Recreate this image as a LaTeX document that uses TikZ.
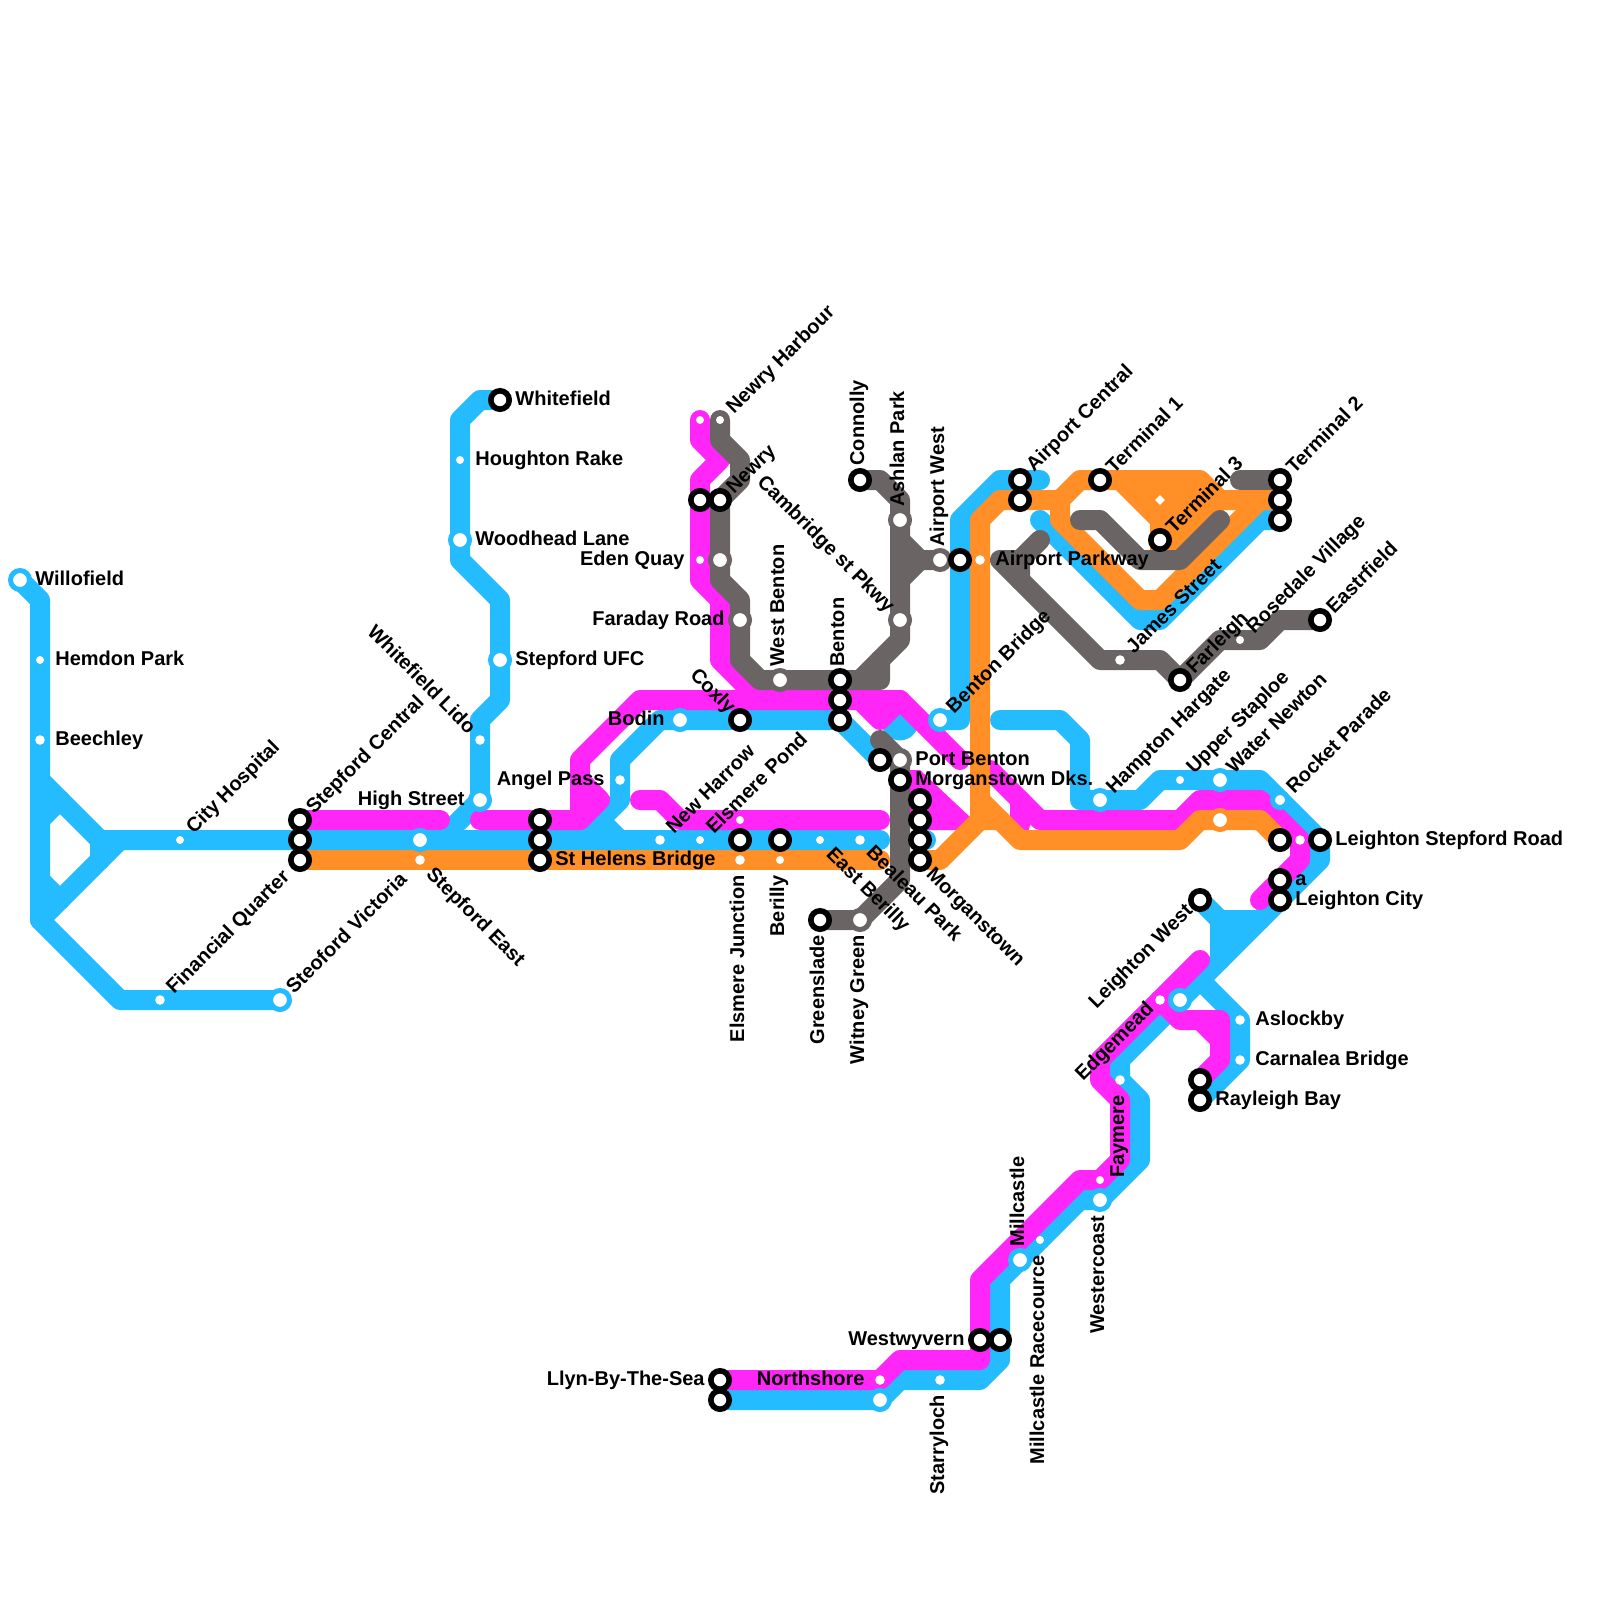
\documentclass[tikz,border=0pt]{standalone}
\usepackage{fontspec}
\setmainfont{Liberation Sans}
\definecolor{cblue}{RGB}{36,187,255}
\definecolor{cmag}{RGB}{255,38,247}
\definecolor{corg}{RGB}{255,143,38}
\definecolor{cgry}{RGB}{107,100,100}
\tikzset{
 rail/.style={line width=10pt,line cap=round,line join=round},
 blu/.style={rail,draw=cblue},
 mag/.style={rail,draw=cmag},
 org/.style={rail,draw=corg},
 gry/.style={rail,draw=cgry},
 sd/.style={circle,fill=white,inner sep=0pt,minimum size=4pt*#1},
 sd/.default=1,
 hub/.style={circle,fill=white,draw=#1,line width=2.5pt,inner sep=0pt,minimum size=9.5pt},
 hubs/.style={circle,fill=white,draw=#1,line width=2.5pt,inner sep=0pt,minimum size=7.5pt},
 ring/.style={circle,fill=white,draw=black,line width=2.8pt,inner sep=0pt,minimum size=9.2pt},
 lab/.style={font=\fontsize{10}{12}\selectfont\bfseries,inner sep=0pt,text height=7pt,text depth=0pt,text=black},
 rt/.style={lab,text height=5pt,anchor=west},
 lf/.style={lab,text height=5pt,anchor=east},
 ur/.style={xshift=1pt,lab,rotate=45,anchor=west},
 ue/.style={lab,rotate=45,anchor=east},
 dr/.style={xshift=1.5pt,lab,rotate=-45,anchor=west},
 de/.style={lab,rotate=-45,anchor=east},
 vs/.style={yshift=-1pt,lab,rotate=90,anchor=west},
 ve/.style={lab,rotate=90,anchor=east},
}
\begin{document}
\begin{tikzpicture}[x=0.5pt,y=-0.5pt]
\useasboundingbox (0,0) rectangle (1600,1600);
% terminal coordinates
\coordinate (willofield) at (20,580);
\coordinate (steoford) at (280,1000);
\coordinate (whitefield) at (500,400);
\coordinate (llyn) at (720,1400);
\coordinate (rayleigh) at (1200,1100);
\coordinate (lwest) at (1200,900);
\coordinate (connolly) at (860,480);
\coordinate (eastr) at (1320,620);
\coordinate (greens) at (820,920);
% BLUE
\draw[blu] (willofield)--(40,600)--(40,920)--(120,1000)--(steoford);
\draw[blu] (40,780)--(100,840)--(880,840);
\draw[blu] (100,840)--(100,860);
\draw[blu] (40,920)--(120,840);
\draw[blu] (40,820)--(60,800);
\draw[blu] (40,880)--(60,900);
\draw[blu] (whitefield)--(480,400)--(460,420)--(460,560)--(500,600)--(500,700)--(480,720)--(480,800)--(440,840);
\draw[blu] (600,820)--(620,840);
\draw[blu] (580,840)--(620,800)--(620,760)--(660,720)--(840,720)--(880,760);
\fill[cblue] (900,722) circle (9.2pt);
\draw[blu] (920,840)--(926,840);
\draw[blu] (940,720)--(960,720)--(960,520)--(1000,480)--(1040,480);
\draw[blu] (1040,520)--(1140,620)--(1160,620)--(1260,520)--(1280,520);
\draw[blu] (1000,720)--(1060,720)--(1080,740)--(1080,800)--(1140,800)--(1160,780)--(1260,780)--(1320,840)--(1320,860)--(1120,1060)--(1120,1080)--(1140,1100)--(1140,1160)--(1100,1200)--(1080,1200)--(1000,1280)--(1000,1360)--(980,1380)--(900,1380)--(880,1400)--(llyn);
\draw[blu] (lwest)--(1220,920)--(1220,960);
\draw[blu] (1220,920)--(1260,920);
\fill[cblue] (1220,920)--(1260,920)--(1220,960)--cycle;
\draw[blu] (1200,980)--(1240,1020)--(1240,1060)--(rayleigh);
% MAGENTA
\draw[mag] (300,820)--(440,820);
\draw[mag] (480,820)--(580,820)--(600,800)--(580,780)--(580,760)--(640,700)--(900,700)--(960,760);
\draw[mag] (580,780)--(580,820);
\draw[mag] (700,420)--(700,440)--(720,460)--(700,480)--(700,580)--(720,600)--(720,660)--(760,700);
\draw[mag] (860,700)--(880,720)--(900,700);
\draw[mag] (640,800)--(660,800)--(680,820)--(880,820);
\fill[cmag] (905,770)--(920,770)--(970,817)--(957,830)--(920,830)--(905,810)--cycle;
\draw[mag] (990,770)--(1040,820)--(1180,820)--(1200,800)--(1260,800)--(1300,840)--(1300,860)--(1260,900);
\draw[mag] (1020,800)--(1020,825);
\draw[mag] (1200,960)--(1100,1060)--(1100,1080)--(1120,1100)--(1120,1160)--(1100,1180)--(1080,1180)--(980,1280)--(980,1360)--(900,1360)--(880,1380)--(720,1380);
\draw[mag] (1160,1000)--(1180,1020)--(1220,1020)--(1220,1060)--(1200,1080);
\draw[mag] (1200,1020)--(1220,1040);
% ORANGE
\draw[org] (300,860)--(880,860);
\draw[org] (920,860)--(940,860)--(980,820)--(1000,820)--(1020,840)--(1180,840)--(1200,820)--(1260,820)--(1280,840);
\draw[org] (980,820)--(980,520)--(1000,500)--(1060,500)--(1080,480)--(1200,480)--(1220,500)--(1280,500);
\draw[org] (980,800)--(1000,820);
\draw[org] (1260,500)--(1160,600)--(1140,600)--(1060,520)--(1060,500);
\draw[org] (1120,480)--(1160,520)--(1160,560);
\draw[org] (1220,500)--(1170,550);
\fill[corg] (1125,480)--(1200,480)--(1215,500)--(1160,550)--(1160,520)--cycle;
% GREY
\draw[gry] (720,420)--(720,440)--(740,460)--(740,480)--(720,500)--(720,580)--(740,600)--(740,660)--(760,680)--(880,680)--(880,660);
\draw[gry] (860,680)--(900,640)--(900,500)--(880,480)--(connolly);
\draw[gry] (900,540)--(920,560)--(940,560);
\draw[gry] (900,580)--(920,560);
\draw[gry] (880,740)--(900,760)--(900,880)--(860,920)--(greens);
\draw[gry] (1040,540)--(1020,560)--(1020,580);
\draw[gry] (1020,560)--(1000,560)--(1100,660)--(1160,660)--(1180,680)--(1220,640)--(1260,640)--(1280,620)--(eastr);
\draw[gry] (1080,520)--(1100,520)--(1140,560)--(1180,560)--(1220,520);
\draw[gry] (1240,480)--(1280,480);
% SMALL STOPS
\foreach \n/\x/\y/\k in {a/40/660/1,b/40/740/1.2,c/180/840/1,d/160/1000/1.2,e/420/860/1.2,f/480/740/1.2,g/460/460/1,h/620/780/1.2,i/660/840/1.2,j/700/840/1,k/740/820/1,l/820/840/1,m/860/840/1.2,n/780/860/1,o/740/860/1.2,p/700/420/1,q/720/420/1,r/700/560/1,s/1120/660/1.2,t/1240/640/1,u/1180/780/1,v/1240/1020/1.2,w/1240/1060/1.2,x/1160/1000/1.2,y/1100/1180/1,z/1040/1240/1,aa/940/1380/1.2,ab/880/1380/1.2,ac/1120/1080/1.2,ad/980/560/1.2,ae/1300/840/1.2}
 \node[sd=\k] (sm\n) at (\x,\y) {};
\node[rectangle,fill=white,inner sep=0pt,minimum size=3.5pt,rotate=45] (termthree) at (1160,500) {};
% HALO STOPS
\foreach \n/\x/\y in {a/20/580,b/420/840,c/480/800,d/500/660,e/460/540,f/280/1000,g/680/720,h/940/720,i/1100/800,j/1220/780,l/1180/1000,m/1100/1200,n/1020/1260,o/880/1400}
 \node[hub=cblue] (hb\n) at (\x,\y) {};
\node[hubs=cblue] (hbk) at (1280,800) {};
\foreach \n/\x/\y in {a/780/680,b/740/620,c/720/560,d/900/520,e/900/620,f/940/560,g/900/760,h/860/920}
 \node[hub=cgry] (hg\n) at (\x,\y) {};
\node[hub=corg] (hoa) at (1220,820) {};
% INTERCHANGE RINGS
\foreach \n/\x/\y in {a/300/820,b/300/840,c/300/860,d/500/400,e/540/820,f/540/840,g/540/860,h/740/840,i/780/840,j/920/800,k/920/820,l/920/840,m/920/860,n/740/720,o/840/680,p/840/700,q/840/720,r/700/500,s/720/500,t/860/480,u/960/560,v/1020/480,w/1020/500,x/1100/480,y/1160/540,z/1280/480,aa/1280/500,ab/1280/520,ac/1180/680,ad/1320/620,ae/880/760,af/900/780,ag/1280/840,ah/1320/840,ai/1280/880,aj/1280/900,ak/1200/900,al/1200/1080,am/1200/1100,an/980/1340,ao/1000/1340,ap/720/1380,aq/720/1400,ar/820/920}
 \node[ring] (rg\n) at (\x,\y) {};
% LABELS
\node[rt] (t1) at (35,580) {Willofield};
\node[rt] (t2) at (55,660) {Hemdon Park};
\node[rt] (t3) at (55,740) {Beechley};
\node[rt] (t4) at (515,400) {Whitefield};
\node[rt] (t5) at (475,460) {Houghton Rake};
\node[rt] (t6) at (475,540) {Woodhead Lane};
\node[rt] (t7) at (515,660) {Stepford UFC};
\node[rt] (t8) at (1335,840) {Leighton Stepford Road};
\node[rt] (t9) at (1295,880) {a};
\node[rt] (t10) at (1295,900) {Leighton City};
\node[rt] (t11) at (1255,1020) {Aslockby};
\node[rt] (t12) at (1255,1060) {Carnalea Bridge};
\node[rt] (t13) at (1215,1100) {Rayleigh Bay};
\node[rt] (t14) at (555,860) {St Helens Bridge};
\node[rt] (t15) at (915,760) {Port Benton};
\node[rt] (t16) at (915,780) {Morganstown Dks.};
\node[rt] (t17) at (995,560) {Airport Parkway};
\node[lf] (t18) at (685,560) {Eden Quay};
\node[lf] (t19) at (725,620) {Faraday Road};
\node[lf] (t20) at (665,720) {Bodin};
\node[lf] (t21) at (465,800) {High Street};
\node[lf] (t22) at (605,780) {Angel Pass};
\node[lf] (t23) at (965,1340) {Westwyvern};
\node[lf] (t24) at (705,1380) {Llyn-By-The-Sea};
\node[lf] (t25) at (865,1380) {Northshore};
\node[ur] (t26) at (187,830) {City Hospital};
\node[ur] (t27) at (307,810) {Stepford Central};
\node[ur] (t28) at (167,990) {Financial Quarter};
\node[ur] (t29) at (287,990) {Steoford Victoria};
\node[ur] (t30) at (727,410) {Newry Harbour};
\node[ur] (t31) at (727,490) {Newry};
\node[ur] (t32) at (667,830) {New Harrow};
\node[ur] (t33) at (707,830) {Elsmere Pond};
\node[ur] (t34) at (1027,468) {Airport Central};
\node[ur] (t35) at (1107,470) {Terminal 1};
\node[ur] (t36) at (1167,530) {Terminal 3};
\node[ur] (t37) at (1287,470) {Terminal 2};
\node[ur] (t38) at (947,710) {Benton Bridge};
\node[ur] (t39) at (1127,650) {James Street};
\node[ur] (t40) at (1187,670) {Farleigh};
\node[ur] (t41) at (1247,630) {Rosedale Village};
\node[ur] (t42) at (1327,610) {Eastrfield};
\node[ur] (t43) at (1107,790) {Hampton Hargate};
\node[ur] (t44) at (1187,770) {Upper Staploe};
\node[ur] (t45) at (1227,770) {Water Newton};
\node[ur] (t46) at (1287,790) {Rocket Parade};
\node[ue] (t47) at (1189,907) {Leighton West};
\node[ue] (t48) at (1150,1005) {Edgemead};
\node[dr] (t49) at (427,870) {Stepford East};
\node[dr] (t50) at (827,850) {East Berilly};
\node[dr] (t51) at (867,848) {Bealeau Park};
\node[dr] (t52) at (927,870) {Morganstown};
\node[de] (t53) at (473,730) {Whitefield Lido};
\node[de] (t54) at (733,710) {Coxly};
\node[de] (t55) at (892,609) {Cambridge st Pkwy};
\node[vs] (t56) at (857,464) {Connolly};
\node[vs] (t57) at (897,505) {Ashlan Park};
\node[vs] (t58) at (937,545) {Airport West};
\node[vs] (t59) at (777,665) {West Benton};
\node[vs] (t60) at (837,665) {Benton};
\node[vs] (t61) at (1017,1245) {Millcastle};
\node[ve] (t62) at (737,875) {Elsmere Junction};
\node[ve] (t63) at (777,875) {Berilly};
\node[ve] (t64) at (817,935) {Greenslade};
\node[ve] (t65) at (857,935) {Witney Green};
\node[ve] (t66) at (937,1395) {Starryloch};
\node[ve] (t67) at (1037,1255) {Millcastle Racecource};
\node[ve] (t68) at (1097,1215) {Westercoast};
\node[ve] (t69) at (1117,1095) {Faymere};
\end{tikzpicture}
\end{document}
